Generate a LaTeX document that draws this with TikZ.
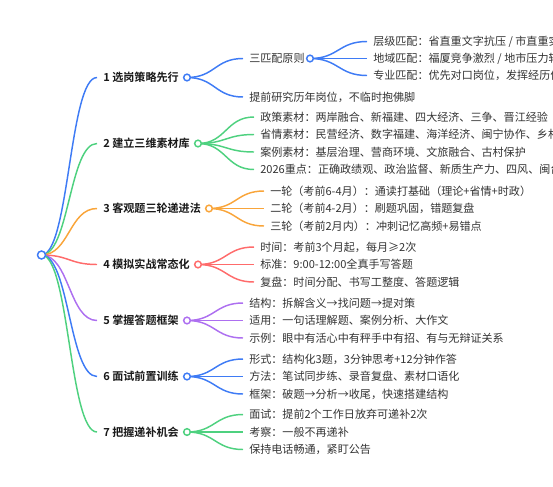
\documentclass[tikz,border=0pt]{standalone}
\usepackage{fontspec}
\setmainfont{Noto Sans CJK SC}[BoldFont={Noto Sans CJK SC Bold}]
\usetikzlibrary{calc}
\pgfdeclarelayer{bg}
\pgfsetlayers{bg,main}
\definecolor{cblue}{HTML}{3E7BF5}
\definecolor{cgreen}{HTML}{4ED17F}
\definecolor{corange}{HTML}{F9A53A}
\definecolor{cred}{HTML}{FF6B6B}
\definecolor{cpurple}{HTML}{AD6FF0}
\definecolor{ctext}{HTML}{333333}
\newcommand{\fs}{\fontsize{8.3pt}{10pt}\selectfont}
\newcommand{\mmlink}[3]{\draw[link,#3] let \p1=(#1.center), \p2=([xshift=-4.5pt]#2.west) in (\p1) .. controls ({(\x1+\x2)/2},\y1) and ({(\x1+\x2)/2},\y2) .. (\p2);}
\tikzset{
  lvl1/.style={font=\bfseries\fs, text=black!90, anchor=west, inner sep=0pt},
  lvl2/.style={font=\fs, text=ctext, anchor=west, inner sep=0pt},
  dot/.style={circle, draw=#1, fill=white, line width=1.1pt, minimum size=5pt, inner sep=0pt},
  link/.style={line width=1.1pt}
}
\begin{document}
\begin{tikzpicture}[x=0.75pt,y=-0.75pt]
\useasboundingbox (0,0) rectangle (553,486);
\clip (0,0) rectangle (553,486);
% root
\node[dot=cblue, minimum size=6pt] (root) at (41.5,255) {};
% level 1
\node[lvl1] (n1) at (103,77.5) {1 选岗策略先行};
\node[dot=cblue] (c1) at (187,77.5) {};
\node[lvl1] (n2) at (103,143.5) {2 建立三维素材库};
\node[dot=cgreen] (c2) at (198,143.5) {};
\node[lvl1] (n3) at (103,208.5) {3 客观题三轮递进法};
\node[dot=corange] (c3) at (209,208.5) {};
\node[lvl1] (n4) at (103,264.5) {4 模拟实战常态化};
\node[dot=cred] (c4) at (198,264.5) {};
\node[lvl1] (n5) at (103,320.5) {5 掌握答题框架};
\node[dot=cpurple] (c5) at (187,320.5) {};
\node[lvl1] (n6) at (103,376.5) {6 面试前置训练};
\node[dot=cblue] (c6) at (187,376.5) {};
\node[lvl1] (n7) at (103,432) {7 把握递补机会};
\node[dot=cgreen] (c7) at (187,432) {};
% group 1
\node[lvl2] (a1) at (249,58.5) {三匹配原则};
\node[dot=cblue] (ca1) at (310,58.5) {};
\node[lvl2] (a2) at (249,97) {提前研究历年岗位，不临时抱佛脚};
\node[lvl2] (a11) at (373,41.5) {层级匹配：省直重文字抗压 / 市直重实务};
\node[lvl2] (a12) at (373,58.5) {地域匹配：福厦竞争激烈 / 地市压力较小};
\node[lvl2] (a13) at (373,75.5) {专业匹配：优先对口岗位，发挥经历优势};
% group 2
\node[lvl2] (b1) at (260,117) {政策素材：两岸融合、新福建、四大经济、三争、晋江经验};
\node[lvl2] (b2) at (260,134.5) {省情素材：民营经济、数字福建、海洋经济、闽宁协作、乡村振兴};
\node[lvl2] (b3) at (260,152) {案例素材：基层治理、营商环境、文旅融合、古村保护};
\node[lvl2] (b4) at (260,169.5) {2026重点：正确政绩观、政治监督、新质生产力、四风、闽台融合};
% group 3
\node[lvl2] (d1) at (270,191) {一轮（考前6-4月）：通读打基础（理论+省情+时政）};
\node[lvl2] (d2) at (270,208.5) {二轮（考前4-2月）：刷题巩固，错题复盘};
\node[lvl2] (d3) at (270,226) {三轮（考前2月内）：冲刺记忆高频+易错点};
% group 4
\node[lvl2] (e1) at (260,247) {时间：考前3个月起，每月≥2次};
\node[lvl2] (e2) at (260,264.5) {标准：9:00-12:00全真手写答题};
\node[lvl2] (e3) at (260,282) {复盘：时间分配、书写工整度、答题逻辑};
% group 5
\node[lvl2] (f1) at (249,303) {结构：拆解含义→找问题→提对策};
\node[lvl2] (f2) at (249,320.5) {适用：一句话理解题、案例分析、大作文};
\node[lvl2] (f3) at (249,338) {示例：眼中有活心中有秤手中有招、有与无辩证关系};
% group 6
\node[lvl2] (g1) at (249,359) {形式：结构化3题，3分钟思考+12分钟作答};
\node[lvl2] (g2) at (249,376.5) {方法：笔试同步练、录音复盘、素材口语化};
\node[lvl2] (g3) at (249,394) {框架：破题→分析→收尾，快速搭建结构};
% group 7
\node[lvl2] (h1) at (249,414.5) {面试：提前2个工作日放弃可递补2次};
\node[lvl2] (h2) at (249,432) {考察：一般不再递补};
\node[lvl2] (h3) at (249,449.5) {保持电话畅通，紧盯公告};
% links
\begin{pgfonlayer}{bg}
\mmlink{root}{n1}{cblue}
\mmlink{root}{n2}{cgreen}
\mmlink{root}{n3}{corange}
\mmlink{root}{n4}{cred}
\mmlink{root}{n5}{cpurple}
\mmlink{root}{n6}{cblue}
\mmlink{root}{n7}{cgreen}
\mmlink{c1}{a1}{cblue}
\mmlink{c1}{a2}{cblue}
\mmlink{ca1}{a11}{cblue}
\mmlink{ca1}{a12}{cblue}
\mmlink{ca1}{a13}{cblue}
\mmlink{c2}{b1}{cgreen}
\mmlink{c2}{b2}{cgreen}
\mmlink{c2}{b3}{cgreen}
\mmlink{c2}{b4}{cgreen}
\mmlink{c3}{d1}{corange}
\mmlink{c3}{d2}{corange}
\mmlink{c3}{d3}{corange}
\mmlink{c4}{e1}{cred}
\mmlink{c4}{e2}{cred}
\mmlink{c4}{e3}{cred}
\mmlink{c5}{f1}{cpurple}
\mmlink{c5}{f2}{cpurple}
\mmlink{c5}{f3}{cpurple}
\mmlink{c6}{g1}{cblue}
\mmlink{c6}{g2}{cblue}
\mmlink{c6}{g3}{cblue}
\mmlink{c7}{h1}{cgreen}
\mmlink{c7}{h2}{cgreen}
\mmlink{c7}{h3}{cgreen}
\end{pgfonlayer}
\end{tikzpicture}
\end{document}
